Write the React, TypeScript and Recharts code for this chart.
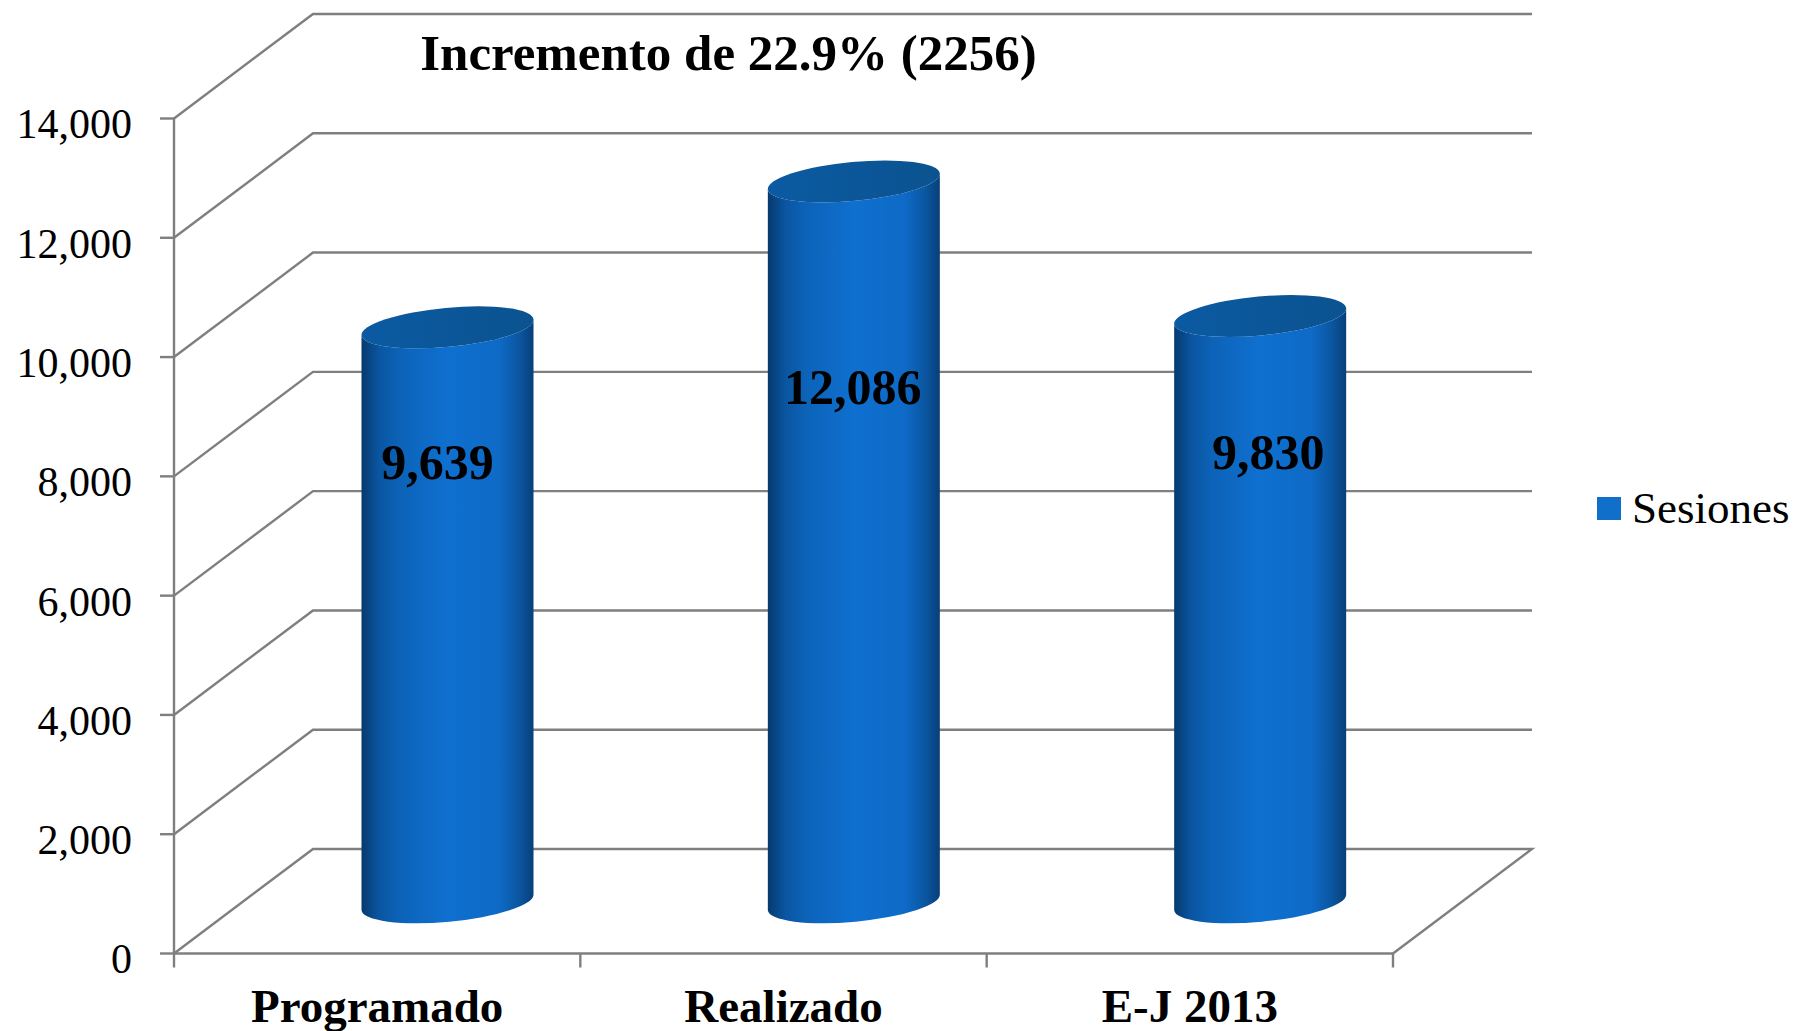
import React from "react";
import { BarChart, Bar, XAxis, YAxis, CartesianGrid, Legend, LabelList } from "recharts";

const categories = ["Programado", "Realizado", "E-J 2013"];
const sesiones = [9639, 12086, 9830];
const yTicks = [0, 2000, 4000, 6000, 8000, 10000, 12000, 14000];
const titleText = "Incremento de 22.9% (2256)";
const seriesName = "Sesiones";
const data = categories.map((name, i) => ({ name, [seriesName]: sesiones[i] }));

const W = 1796, H = 1031;
const LEFT = 174, RIGHT = 1393, TOP = 118.5, BOTTOM = 953.5;
const LEGEND_W = 199;
const DEPTH_X = 139, DEPTH_Y = 104.5;
const BAND = (RIGHT - LEFT) / categories.length;
const CYL_W = 172, CYL_RY = 19.5, TILT = 8;
const FONT = "'Liberation Serif', serif";
const GREY = "#7F7F7F";
const LINE_W = 2.4;
const labelNudges = [{ dx: -9, dy: 85 }, { dx: 0, dy: 156 }, { dx: 9, dy: 87 }];

function Cylinder(props: any) {
  const { x, y, width, height } = props;
  const cx = x + width / 2 + DEPTH_X / 2 + 1;
  const topY = y - DEPTH_Y / 2 + 1;
  const baseY = y + height - DEPTH_Y / 2 + 1;
  const r = CYL_W / 2;
  const rx = Math.hypot(r, TILT);
  const rot = (-Math.atan2(TILT, r) * 180) / Math.PI;
  const l = cx - r, rr = cx + r;
  const body = `M${l},${topY + TILT} L${l},${baseY + TILT} A${rx},${CYL_RY} ${rot} 0 0 ${rr},${baseY - TILT} L${rr},${topY - TILT} A${rx},${CYL_RY} ${rot} 0 1 ${l},${topY + TILT} Z`;
  const cap = `M${l},${topY + TILT} A${rx},${CYL_RY} ${rot} 0 1 ${rr},${topY - TILT} A${rx},${CYL_RY} ${rot} 0 1 ${l},${topY + TILT} Z`;
  return (
    <g>
      <path d={body} fill="url(#cylBody)" />
      <path d={cap} fill="url(#cylCap)" />
    </g>
  );
}

function gridLine(props: any) {
  const { x1, y1, x2, key } = props;
  const isFloor = Math.abs(y1 - BOTTOM) < 1;
  const bx = x1 + DEPTH_X;
  const by = y1 - DEPTH_Y;
  const end = x2 + DEPTH_X;
  const d = isFloor
    ? `M${x1},${y1} L${bx},${by} L${end},${by} L${x2},${y1}`
    : `M${x1},${y1} L${bx},${by} L${end},${by}`;
  return <path key={key} d={d} fill="none" stroke={GREY} strokeWidth={LINE_W} />;
}

function CategoryTick(props: any) {
  const { x, payload, index } = props;
  const boundary = x - BAND / 2;
  return (
    <g>
      <line x1={boundary} x2={boundary} y1={BOTTOM} y2={BOTTOM + 14} stroke={GREY} strokeWidth={LINE_W} />
      {index === categories.length - 1 && (
        <line x1={x + BAND / 2} x2={x + BAND / 2} y1={BOTTOM} y2={BOTTOM + 14} stroke={GREY} strokeWidth={LINE_W} />
      )}
      <text x={x} y={1022} textAnchor="middle" fontFamily={FONT} fontWeight="bold" fontSize={47} fill="#000">
        {payload.value}
      </text>
    </g>
  );
}

function ValueLabel(props: any) {
  const { x, y, width, value, index } = props;
  const n = labelNudges[index];
  return (
    <text
      x={x + width / 2 + DEPTH_X / 2 + n.dx}
      y={y + n.dy + 15}
      textAnchor="middle"
      fontFamily={FONT}
      fontWeight="bold"
      fontSize={50}
      fill="#000"
    >
      {Number(value).toLocaleString("en-US")}
    </text>
  );
}

function LegendBox() {
  return (
    <div style={{ display: "flex", alignItems: "center", fontFamily: FONT, fontSize: 45, color: "#000", whiteSpace: "nowrap" }}>
      <span style={{ display: "inline-block", width: 24, height: 23, background: "#0F6FCB", marginRight: 11 }} />
      <span>{seriesName}</span>
    </div>
  );
}

export default function App() {
  return (
    <div style={{ position: "absolute", left: 0, top: 0, width: W, height: H, overflow: "hidden", background: "#fff" }}>
      <BarChart
        width={W}
        height={H}
        data={data}
        margin={{ top: TOP, right: W - RIGHT - LEGEND_W, bottom: 0, left: 0 }}
        barSize={CYL_W}
      >
        <defs>
          <linearGradient id="cylBody" x1="0" y1="0" x2="1" y2="0">
            <stop offset="0" stopColor="#063A6E" />
            <stop offset="0.1" stopColor="#0A55A0" />
            <stop offset="0.22" stopColor="#0C63B8" />
            <stop offset="0.5" stopColor="#0F70D0" />
            <stop offset="0.8" stopColor="#0E6AC6" />
            <stop offset="0.92" stopColor="#0B559F" />
            <stop offset="1" stopColor="#083F78" />
          </linearGradient>
          <linearGradient id="cylCap" x1="0" y1="0" x2="1" y2="0">
            <stop offset="0" stopColor="#0B5AA2" />
            <stop offset="1" stopColor="#0B5390" />
          </linearGradient>
        </defs>
        <CartesianGrid vertical={false} horizontal={gridLine} />
        <XAxis
          dataKey="name"
          height={H - BOTTOM}
          interval={0}
          axisLine={{ stroke: GREY, strokeWidth: LINE_W }}
          tickLine={false}
          tick={CategoryTick}
        />
        <YAxis
          width={LEFT}
          domain={[0, 14000]}
          ticks={yTicks}
          interval={0}
          tickSize={14}
          tickMargin={28}
          axisLine={{ stroke: GREY, strokeWidth: LINE_W }}
          tickLine={{ stroke: GREY, strokeWidth: LINE_W }}
          tick={{ fontFamily: FONT, fontSize: 42, fill: "#000", dy: 5 }}
          tickFormatter={(v: number) => v.toLocaleString("en-US")}
        />
        <Bar dataKey={seriesName} fill="#0F6FCB" shape={Cylinder} isAnimationActive={false}>
          <LabelList dataKey={seriesName} content={ValueLabel} />
        </Bar>
        <Legend
          layout="horizontal"
          verticalAlign="middle"
          align="right"
          content={LegendBox}
          wrapperStyle={{ left: 1597, top: 482, width: LEGEND_W, right: "auto", bottom: "auto" }}
        />
        <text x={728.5} y={70} textAnchor="middle" fontFamily={FONT} fontWeight="bold" fontSize={51} fill="#000">
          {titleText}
        </text>
      </BarChart>
    </div>
  );
}
